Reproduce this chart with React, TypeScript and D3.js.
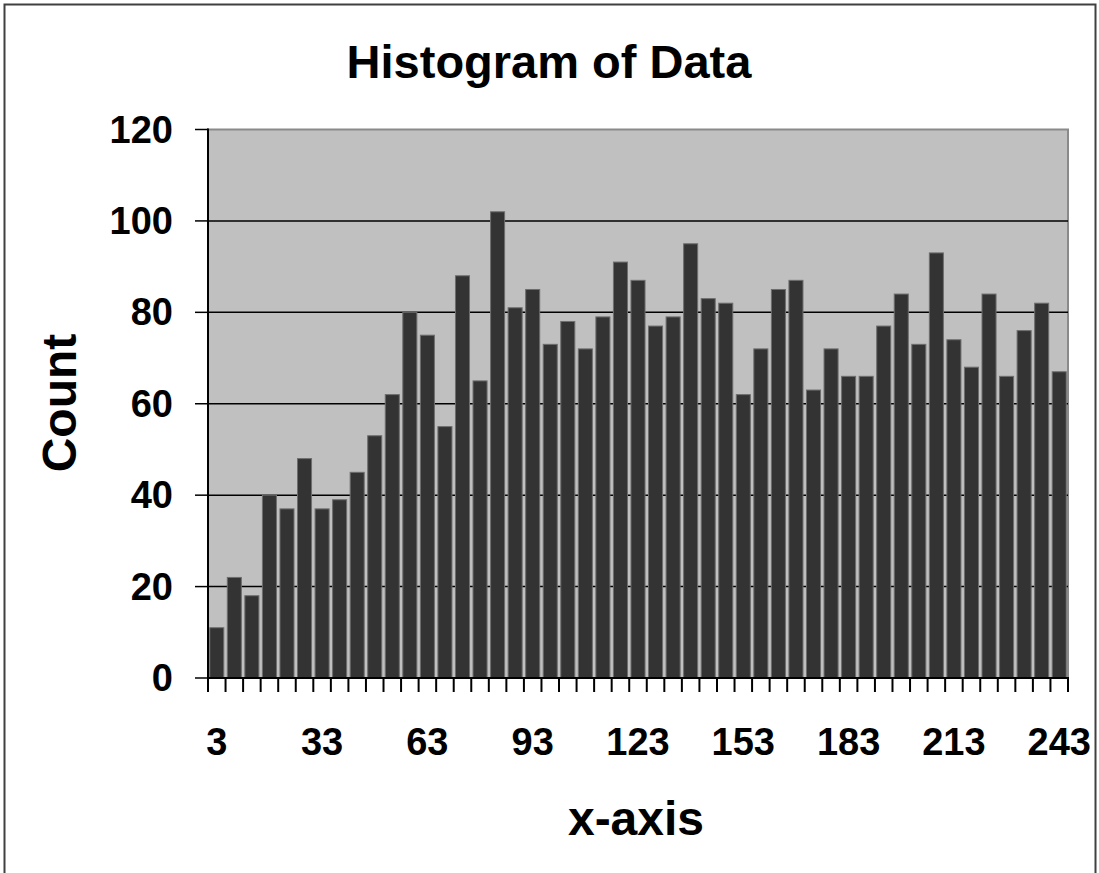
import React from "react";
import * as d3 from "d3";

const categories: number[] = [3, 8, 13, 18, 23, 28, 33, 38, 43, 48, 53, 58, 63, 68, 73, 78, 83, 88, 93, 98, 103, 108, 113, 118, 123, 128, 133, 138, 143, 148, 153, 158, 163, 168, 173, 178, 183, 188, 193, 198, 203, 208, 213, 218, 223, 228, 233, 238, 243];
const counts: number[] = [11, 22, 18, 40, 37, 48, 37, 39, 45, 53, 62, 80, 75, 55, 88, 65, 102, 81, 85, 73, 78, 72, 79, 91, 87, 77, 79, 95, 83, 82, 62, 72, 85, 87, 63, 72, 66, 66, 77, 84, 73, 93, 74, 68, 84, 66, 76, 82, 67];
const xTickLabels: number[] = [3, 33, 63, 93, 123, 153, 183, 213, 243];
const yTicks: number[] = [0, 20, 40, 60, 80, 100, 120];

const TITLE = "Histogram of Data";
const X_TITLE = "x-axis";
const Y_TITLE = "Count";

export default function App() {
  const W = 1099, H = 873;
  const left = 208, right = 1068, top = 129.5, bottom = 678;
  const font = "'Liberation Sans', Arial, sans-serif";

  const x = d3.scaleBand<number>().domain(categories).range([left, right]).paddingInner(0.2).paddingOuter(0.1);
  const y = d3.scaleLinear().domain([0, 120]).range([bottom, top]);
  const step = x.step();
  const bounds = d3.range(categories.length + 1).map((i) => left + i * step);

  return (
    <svg width={W} height={H} style={{ position: "absolute", left: 0, top: 0, background: "#fff" }}>
      <rect x={4.5} y={4.5} width={1091} height={900} fill="#fff" stroke="#404040" strokeWidth={2} />
      <text x={549} y={78} textAnchor="middle" fontFamily={font} fontWeight="bold" fontSize={47}>{TITLE}</text>

      <rect x={left} y={top} width={right - left} height={bottom - top} fill="#C0C0C0" stroke="#8a8a8a" strokeWidth={2} />
      {yTicks.filter((t) => t > 0 && t < 120).map((t) => (
        <line key={"g" + t} x1={left} x2={right} y1={y(t)} y2={y(t)} stroke="#000" strokeWidth={1.5} />
      ))}

      {categories.map((c, i) => (
        <rect key={c} x={x(c)} y={y(counts[i])} width={x.bandwidth()} height={bottom - y(counts[i])} fill="#333333" stroke="#6e6e6e" strokeWidth={1} />
      ))}

      <line x1={left} x2={left} y1={top - 1} y2={bottom} stroke="#000" strokeWidth={2} />
      <line x1={left - 1} x2={right + 1} y1={bottom} y2={bottom} stroke="#000" strokeWidth={2} />

      {yTicks.map((t) => (
        <g key={"y" + t}>
          <line x1={left - 13} x2={left} y1={y(t)} y2={y(t)} stroke="#000" strokeWidth={1.5} />
          <text x={173} y={y(t) + 13} textAnchor="end" fontFamily={font} fontWeight="bold" fontSize={38}>{t}</text>
        </g>
      ))}

      {bounds.map((b, i) => (
        <line key={"xt" + i} x1={b} x2={b} y1={bottom} y2={bottom + 14} stroke="#000" strokeWidth={2} />
      ))}
      {xTickLabels.map((v) => (
        <text key={"xl" + v} x={(x(v) as number) + x.bandwidth() / 2} y={755} textAnchor="middle" fontFamily={font} fontWeight="bold" fontSize={38}>{v}</text>
      ))}

      <text x={636} y={835} textAnchor="middle" fontFamily={font} fontWeight="bold" fontSize={48}>{X_TITLE}</text>
      <text transform={`translate(76,403) rotate(-90)`} textAnchor="middle" fontFamily={font} fontWeight="bold" fontSize={48}>{Y_TITLE}</text>
    </svg>
  );
}
